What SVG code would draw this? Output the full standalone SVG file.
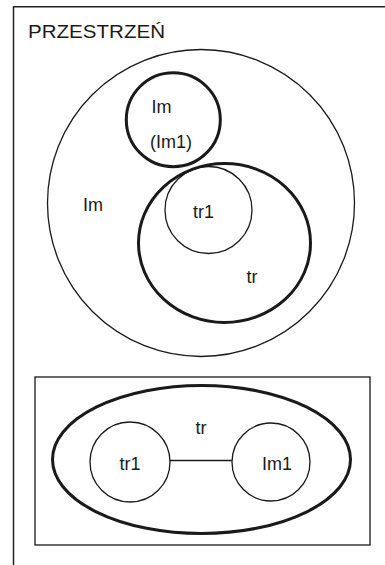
<svg xmlns="http://www.w3.org/2000/svg" width="385" height="565" viewBox="0 0 385 565">
  <style>
    .thin { fill: none; stroke: #1a1a1a; stroke-width: 1.3; }
    .thick { fill: none; stroke: #1a1a1a; stroke-width: 3; }
    .frame { fill: none; stroke: #222; stroke-width: 1.5; }
    text { font-family: "Liberation Sans", Arial, sans-serif; font-size: 18px; fill: #1a1a1a; }
    .mid { text-anchor: middle; }
  </style>
  <rect width="385" height="565" fill="#ffffff"/>

  <!-- space frame (open to the right and bottom) -->
  <g id="space">
    <path class="frame" d="M13.5,565 V6.8 H385"/>
    <text x="28" y="38" textLength="137" lengthAdjust="spacingAndGlyphs">PRZESTRZEŃ</text>
  </g>

  <!-- upper view: nested regions -->
  <g id="im-outer">
    <circle class="thin" cx="201" cy="203" r="153.5"/>
    <text x="83" y="211">Im</text>
  </g>
  <g id="im1">
    <circle class="thick" cx="173.3" cy="119.7" r="47"/>
    <text x="151.5" y="113">Im</text>
    <text x="150" y="148">(Im1)</text>
  </g>
  <g id="tr">
    <ellipse class="thick" cx="224.5" cy="243" rx="86" ry="79.5"/>
    <text x="246.5" y="283">tr</text>
  </g>
  <g id="tr1">
    <circle class="thin" cx="208.5" cy="210" r="43.5"/>
    <text x="193" y="218">tr1</text>
  </g>

  <!-- lower view: graph inside box -->
  <g id="box">
    <rect class="thin" x="35" y="377" width="335" height="168"/>
  </g>
  <g id="tr-ellipse">
    <ellipse class="thick" cx="201.5" cy="459.5" rx="149" ry="74"/>
    <text class="mid" x="201" y="434">tr</text>
  </g>
  <g id="connectors">
    <line class="thin" x1="170" y1="460.5" x2="232" y2="460.5"/>
  </g>
  <g id="node-tr1">
    <circle class="thin" cx="130" cy="462" r="40"/>
    <text class="mid" x="130" y="470">tr1</text>
  </g>
  <g id="node-im1">
    <circle class="thin" cx="271" cy="462" r="39"/>
    <text class="mid" x="277" y="470">Im1</text>
  </g>
</svg>
